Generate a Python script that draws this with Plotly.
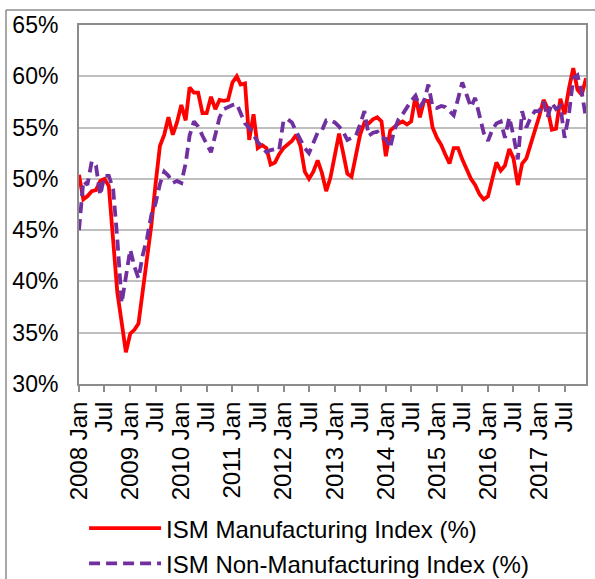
import pandas as pd
import plotly.graph_objects as go

# Monthly observations, Jan 2008 .. Dec 2017
months = pd.date_range("2008-01-01", "2017-12-01", freq="MS")

manufacturing = [
    50.4, 48.0, 48.3, 48.8, 48.9, 49.8, 50.0, 49.3, 44.0, 38.9, 36.0, 33.1,   # 2008
    34.9, 35.3, 35.9, 39.0, 42.0, 45.5, 49.5, 53.2, 54.3, 56.0, 54.3, 55.5,   # 2009
    57.2, 55.7, 58.9, 58.4, 58.4, 56.4, 56.4, 58.0, 56.8, 57.7, 57.6, 57.7,   # 2010
    59.4, 60.0, 59.2, 59.3, 53.8, 56.3, 53.0, 53.3, 53.0, 51.4, 51.6, 52.4,   # 2011
    53.0, 53.4, 53.7, 54.3, 53.2, 50.7, 50.0, 50.7, 51.8, 50.6, 48.8, 50.1,   # 2012
    52.5, 54.4, 52.6, 50.5, 50.2, 52.2, 54.3, 55.5, 55.4, 55.8, 56.0, 55.6,   # 2013
    52.2, 54.7, 55.0, 55.4, 55.6, 55.3, 55.6, 58.1, 56.0, 57.6, 57.6, 55.0,   # 2014
    54.0, 53.3, 52.4, 51.5, 53.0, 53.0, 51.9, 51.0, 50.0, 49.4, 48.5, 48.0,   # 2015
    48.3, 50.0, 51.6, 50.8, 51.3, 52.9, 52.0, 49.4, 51.5, 52.0, 53.3, 54.6,   # 2016
    56.1, 57.7, 56.9, 54.8, 54.9, 57.8, 56.3, 58.8, 60.8, 58.7, 58.2, 59.8,   # 2017
]

non_manufacturing = [
    45.0, 49.8, 49.4, 51.7, 51.3, 48.4, 50.3, 50.3, 49.0, 44.1, 37.9, 40.2,   # 2008
    43.1, 41.4, 40.3, 42.6, 44.2, 46.5, 47.6, 49.5, 50.7, 50.3, 49.6, 49.8,   # 2009
    49.6, 51.5, 54.2, 55.6, 55.1, 54.2, 53.4, 52.6, 54.3, 56.0, 56.8, 57.0,   # 2010
    57.2, 57.3, 56.3, 55.4, 55.0, 54.2, 53.6, 53.1, 52.6, 52.8, 52.9, 52.8,   # 2011
    55.7, 55.8, 55.5, 54.6, 53.8, 53.0, 52.5, 53.4, 54.5, 54.7, 55.7, 55.7,   # 2012
    55.5, 55.1, 54.6, 53.8, 54.0, 54.2, 55.3, 56.6, 54.2, 54.5, 54.6, 54.0,   # 2013
    53.9, 53.0, 54.7, 55.8, 56.3, 57.0, 57.6, 58.1, 57.0, 57.6, 59.2, 57.0,   # 2014
    56.9, 57.1, 57.0, 56.6, 56.2, 57.8, 59.4, 58.2, 57.0, 57.9, 56.3, 54.5,   # 2015
    53.7, 54.8, 55.4, 55.6, 54.0, 56.0, 54.2, 51.9, 56.6, 55.0, 56.0, 56.6,   # 2016
    56.6, 57.5, 56.0, 57.4, 56.8, 57.1, 54.0, 56.3, 59.8, 60.1, 58.4, 55.9,   # 2017
]

tick_dates = pd.date_range("2008-01-01", "2017-07-01", freq="6MS")
tick_labels = [f"{d.year} Jan" if d.month == 1 else "Jul" for d in tick_dates]
y_ticks = [30, 35, 40, 45, 50, 55, 60, 65]

FONT = "Liberation Sans, Arial, sans-serif"
AXIS_GRAY = "#8C8C8C"

fig = go.Figure()
fig.add_trace(go.Scatter(
    x=months, y=manufacturing, mode="lines",
    name="ISM Manufacturing Index (%)",
    line=dict(color="#FF0000", width=3.8),
    legendgroup="a",
))
fig.add_trace(go.Scatter(
    x=months, y=non_manufacturing, mode="lines",
    name="ISM Non-Manufacturing Index (%)",
    line=dict(color="#7030A0", width=3.8, dash="11px,6px"),
    legendgroup="b",
))

fig.update_layout(
    width=595, height=579,
    margin=dict(l=79, r=9, t=25, b=195, autoexpand=False),
    paper_bgcolor="white", plot_bgcolor="white",
    font=dict(family=FONT, size=23, color="black"),
    showlegend=True,
    legend=dict(
        orientation="v", x=0.01, xanchor="left", y=-0.34, yanchor="top",
        font=dict(size=24), itemwidth=72, tracegroupgap=1,
        traceorder="grouped", bgcolor="rgba(0,0,0,0)",
    ),
    xaxis=dict(
        type="date", range=[months[0], months[-1]],
        tickmode="array", tickvals=tick_dates, ticktext=tick_labels,
        tickangle=-90, ticks="outside", ticklen=6, tickwidth=2, tickcolor=AXIS_GRAY,
        showline=True, linecolor=AXIS_GRAY, linewidth=2, mirror=True,
        showgrid=False, zeroline=False, automargin=False,
        tickfont=dict(size=24),
    ),
    yaxis=dict(
        range=[30, 65], tickmode="array", tickvals=y_ticks,
        ticktext=[f"{v}%" for v in y_ticks],
        showline=True, linecolor=AXIS_GRAY, linewidth=2, mirror=True,
        showgrid=True, gridcolor="#BFBFBF", gridwidth=1.5,
        zeroline=False, ticks="", ticklabelstandoff=14, automargin=False,
        tickfont=dict(size=23),
    ),
    shapes=[
        dict(type="line", xref="paper", yref="paper",
             x0=-0.144, x1=1.03, y0=1.042, y1=1.042,
             line=dict(color=AXIS_GRAY, width=1.5)),
        dict(type="line", xref="paper", yref="paper",
             x0=-0.144, x1=-0.144, y0=1.042, y1=-0.6,
             line=dict(color=AXIS_GRAY, width=1.5)),
    ],
)

fig.write_html(
    "out.html",
    config={"displayModeBar": False},
    post_script="document.body.style.margin='0px';document.body.style.overflow='hidden';",
)
